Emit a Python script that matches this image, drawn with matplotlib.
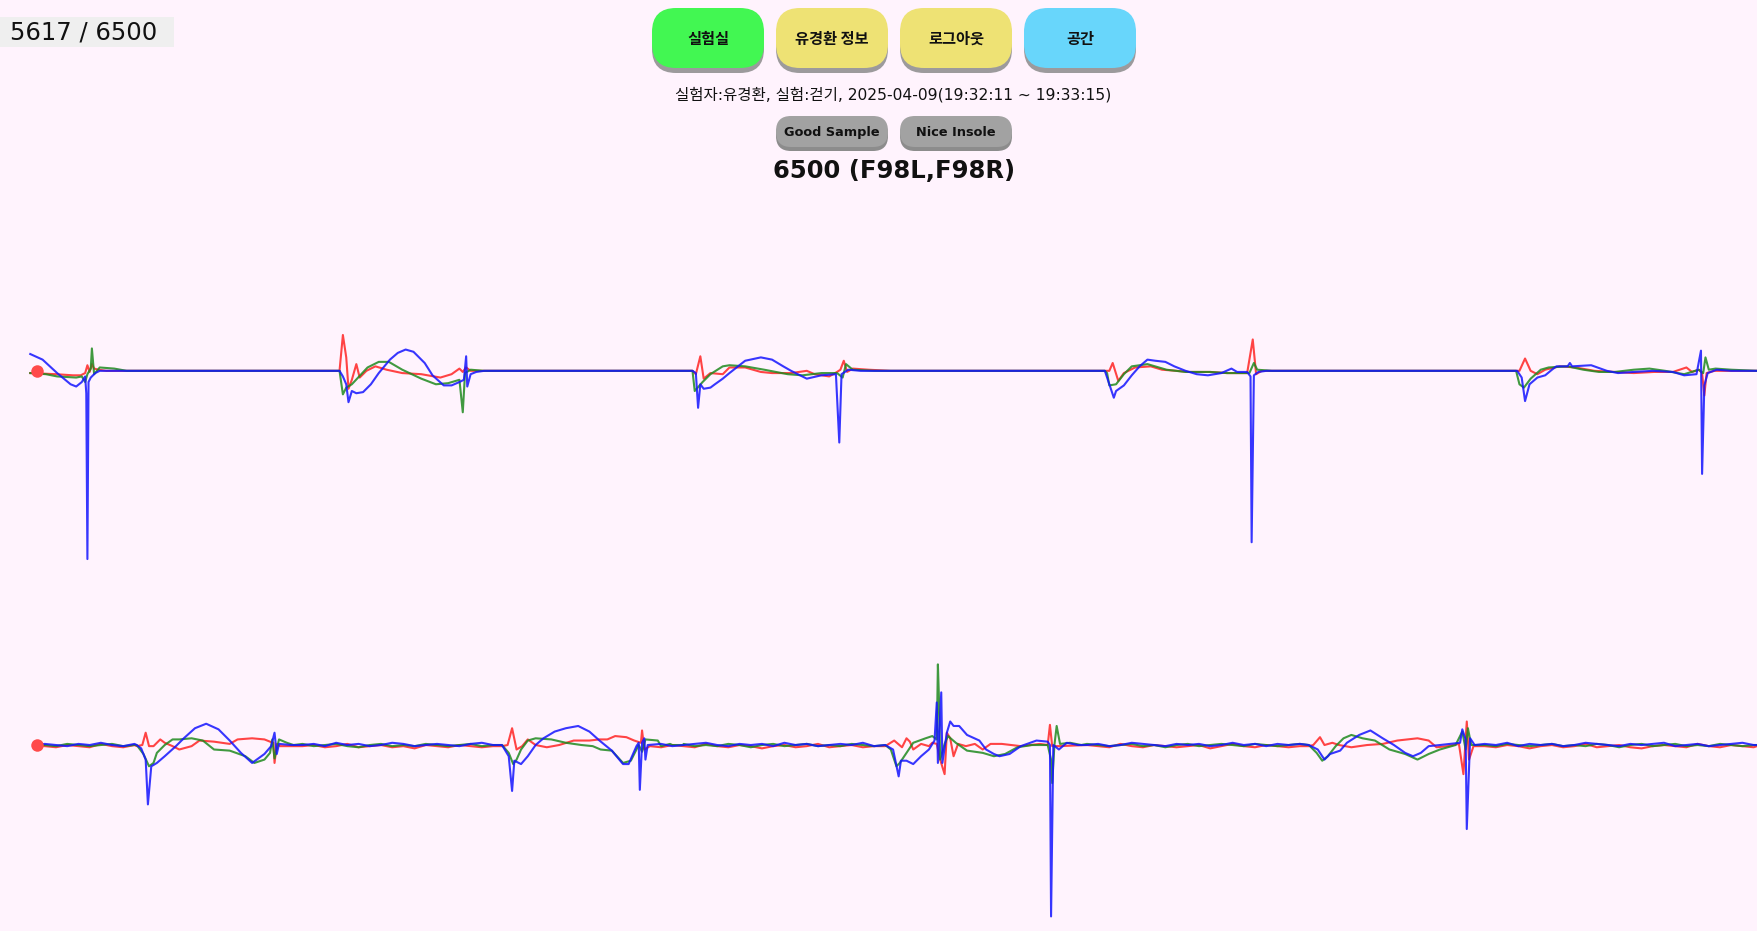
import numpy as np
import matplotlib.pyplot as plt
from matplotlib.patches import FancyBboxPatch, Rectangle

plt.rcParams['font.family'] = ['DejaVu Sans', 'Noto Sans CJK KR']

W, H = 1757, 931

# page texts
counter_text = '5617 / 6500'
menu_labels = ['실험실', '유경환 정보', '로그아웃', '공간']
menu_colors = ['#42f752', '#eee274', '#eee274', '#68d6fb']
info_text = '실험자:유경환, 실험:걷기, 2025-04-09(19:32:11 ~ 19:33:15)'
tag_labels = ['Good Sample', 'Nice Insole']
title_text = '6500 (F98L,F98R)'

# signal traces: (sample, value) pairs, value 0 = rest level
top_red = [(27, -2), (50, -3), (65, -4), (72, -4), (76, -2), (78, 5), (80, -1), (82, 6), (84, 2), (88, 1), (95, 0),
           (303, 0), (306, 32), (309, 12), (311, -16), (314, -8), (318, 6), (321, -6), (327, 0), (335, 4), (345, 1),
           (359, -2), (376, -3), (393, -6), (403, -3), (410, 2), (413, -1), (416, 3), (420, 0),
           (618, 0), (621, -3), (625, 13), (628, -7), (634, -2), (645, -3), (651, 3), (665, 3), (679, -1), (689, -2),
           (706, -2), (720, 0), (727, -3), (740, -5), (747, -1), (750, 1), (753, 9), (756, -1), (761, 2), (775, 1), (795, 0),
           (986, 0), (990, 0), (993, 7), (998, -9), (1003, -2), (1013, 3), (1027, 4), (1037, 1), (1050, 0), (1061, -1),
           (1080, -1), (1095, -2), (1113, -2), (1118, 28), (1121, -3), (1126, 0),
           (1352, 0), (1356, 0), (1361, 11), (1366, 0), (1372, -3), (1379, 1), (1392, 4), (1406, 3), (1423, 0),
           (1441, -1), (1458, -2), (1476, -1), (1493, -1), (1505, 3), (1510, -1), (1516, 1), (1519, -2), (1521, -22),
           (1523, -2), (1530, 0), (1568, 0)]
top_green = [(27, -2), (41, -3), (51, -5), (68, -6), (73, -5), (76, -10), (78, -3), (81, 2), (82, 20), (84, -3), (89, 3),
             (102, 2), (113, 0),
             (303, 0), (306, -21), (309, -15), (314, -12), (328, 3), (338, 8), (347, 8), (359, 1), (376, -7), (389, -12),
             (400, -11), (410, -8), (413, -37), (415, -2), (420, 1), (432, 0),
             (618, 0), (620, -18), (627, -10), (634, -3), (645, 4), (651, 5), (665, 4), (682, 1), (703, -3), (716, -4),
             (733, -2), (747, -2), (752, -6), (755, 6), (761, 1), (780, 0),
             (986, 0), (988, -2), (990, -13), (996, -12), (1003, -3), (1010, 4), (1024, 6), (1041, 1), (1058, -1),
             (1080, -1), (1095, -2), (1115, -2), (1119, 7), (1122, 1), (1135, 0),
             (1353, 0), (1356, -12), (1360, -15), (1366, -7), (1375, 1), (1382, 3), (1399, 4), (1413, 1), (1427, -1),
             (1441, -1), (1458, 1), (1472, 2), (1486, 0), (1503, -3), (1516, 1), (1520, -2), (1522, 12), (1525, 1),
             (1531, 2), (1545, 1), (1568, 0)]
top_blue = [(27, 15), (38, 10), (51, -2), (63, -12), (68, -14), (73, -10), (76, -5), (77, -20), (78, -168), (79, -10),
            (81, -6), (85, -2), (89, 0),
            (303, 0), (306, -5), (309, -12), (311, -28), (314, -18), (318, -20), (324, -19), (331, -12), (338, -2),
            (348, 10), (355, 16), (362, 19), (369, 17), (379, 7), (386, -4), (396, -13), (403, -13), (410, -10),
            (414, -8), (416, 13), (417, -14), (420, -3), (425, -1), (432, 0),
            (618, 0), (621, -2), (623, -33), (625, -12), (628, -16), (634, -15), (638, -12), (645, -7), (651, -2),
            (665, 9), (679, 12), (689, 10), (699, 4), (706, 0), (720, -7), (733, -4), (746, -3), (749, -64), (751, -3),
            (757, 1), (768, 0),
            (986, 0), (991, -15), (994, -24), (996, -18), (1003, -13), (1010, -4), (1017, 4), (1024, 10), (1031, 9),
            (1040, 8), (1048, 4), (1058, 0), (1068, -3), (1078, -4), (1090, -2), (1099, 2), (1104, -1), (1113, -1),
            (1116, -5), (1117, -153), (1119, -4), (1123, -1), (1130, 0),
            (1354, 0), (1358, -6), (1361, -27), (1365, -12), (1372, -6), (1379, -4), (1385, 1), (1389, 4), (1399, 4),
            (1401, 7), (1403, 4), (1420, 5), (1434, 0), (1444, -2), (1458, -1), (1475, 0), (1493, -1), (1503, -4),
            (1514, -3), (1518, 18), (1519, -92), (1521, -13), (1524, -2), (1532, 1), (1545, 0), (1568, 0)]

bot_red = [(30, -1), (122, -1),
           (127, 0), (130, 11), (133, -1), (137, -1), (143, 5), (147, 2), (154, -1), (160, -4), (171, -1), (178, 4),
           (191, 3), (205, 1), (212, 5), (225, 6), (236, 5), (241, 3), (244, 2), (245, -16), (247, 1), (250, -1),
           (448, -1), (453, 0), (457, 15), (461, -4), (466, -1), (471, 5), (478, 0), (488, -2), (499, 0), (512, 4),
           (526, 4), (535, 5), (542, 5), (549, 8), (559, 7), (566, 4), (572, 2), (573, 13), (575, -4), (580, -1),
           (790, -1), (798, 4), (805, -2), (809, 6), (812, 3), (815, -4), (822, 1), (829, -1), (832, 2), (836, 1),
           (839, -13), (843, -26), (845, 11), (848, 6), (851, -10), (855, 1), (862, -1), (870, 1), (877, -4), (884, 1),
           (894, 1), (911, -1), (928, 1), (935, 0), (937, 18), (939, -1), (945, -1),
           (1168, -1), (1172, 0), (1178, 7), (1182, 0), (1189, 2), (1195, 0), (1206, -2), (1220, 0), (1234, 1),
           (1247, 4), (1265, 6), (1275, 4), (1282, -2), (1292, -1), (1302, 1), (1306, -26), (1309, 21), (1311, -13),
           (1315, -1), (1568, -1)]
bot_green = [(30, 0), (122, 0),
             (128, -8), (133, -19), (137, -16), (140, -7), (147, 0), (154, 5), (160, 5), (171, 6), (181, 4), (191, -4),
             (205, -5), (219, -10), (227, -16), (236, -13), (241, -7), (243, 5), (245, -12), (249, 5), (256, 2), (262, 0),
             (448, 0), (454, -7), (458, -17), (461, -13), (465, -4), (471, 4), (478, 6), (492, 5), (505, 2), (519, 0),
             (529, -1), (536, -4), (546, -5), (556, -16), (563, -14), (570, 0), (573, -6), (576, 5), (587, 4), (598, 1),
             (610, 0),
             (790, 0), (795, -4), (800, -19), (803, -16), (809, -7), (815, 2), (826, 6), (832, 8), (836, 5), (837, 72),
             (838, 40), (839, -13), (843, 1), (846, 8), (853, 2), (863, -5), (877, -7), (887, -10), (897, -8), (908, -2),
             (921, 0), (935, 0), (938, -13), (939, -34), (941, 0), (943, 17), (946, 1), (955, 2), (965, 0),
             (1168, 0), (1175, -7), (1180, -14), (1185, -10), (1192, -1), (1199, 6), (1206, 9), (1216, 6), (1227, 4),
             (1240, -4), (1254, -8), (1265, -13), (1275, -8), (1285, -4), (1299, 0), (1305, 12), (1308, -4), (1310, 15),
             (1313, 0), (1568, 0)]
bot_blue = [(30, 0), (122, 0),
            (126, -3), (130, -13), (132, -53), (135, -19), (140, -16), (147, -10), (157, -1), (164, 6), (174, 15),
            (184, 19), (195, 14), (205, 4), (215, -7), (225, -16), (236, -8), (242, -1), (245, 11), (247, -8), (249, 1),
            (260, 0),
            (448, 0), (454, -10), (457, -41), (459, -14), (465, -17), (471, -10), (478, 0), (485, 6), (495, 12),
            (505, 15), (516, 17), (526, 12), (535, 4), (546, -5), (556, -17), (561, -17), (568, -1), (570, 2),
            (571, -40), (573, 2), (575, 6), (576, -13), (578, 0),
            (790, 0), (797, -4), (802, -28), (804, -14), (809, -14), (815, -17), (822, -10), (829, -4), (834, 4),
            (836, 38), (837, -16), (840, 47), (841, -16), (845, 11), (848, 21), (851, 17), (856, 17), (863, 9), (874, 4),
            (880, -4), (887, -8), (892, -10), (901, -8), (911, -1), (925, 4), (935, 3), (937, 0), (938, -153), (940, 0),
            (945, -4), (952, 2), (962, 0),
            (1168, 0), (1176, -4), (1182, -13), (1187, -8), (1196, -5), (1202, 2), (1213, 9), (1223, 13), (1234, 6),
            (1244, 0), (1254, -7), (1261, -10), (1268, -7), (1275, -1), (1285, 0), (1303, 2), (1305, 14), (1308, 5),
            (1309, -75), (1312, 6), (1316, 0), (1568, 0)]

# small jitter of the lower sensor while at rest
rest_x = [40, 50, 60, 70, 80, 90, 100, 110, 120,
          270, 280, 290, 300, 310, 320, 330, 340, 350, 360, 370, 380, 390, 400, 410, 420, 430, 440,
          590, 600, 610, 620, 630, 640, 650, 660, 670, 680, 690, 700, 710, 720, 730, 740, 750, 760, 770, 780,
          970, 980, 990, 1000, 1010, 1020, 1030, 1040, 1050, 1060, 1070, 1080, 1090, 1100, 1110, 1120, 1130, 1140,
          1150, 1160,
          1325, 1335, 1345, 1355, 1365, 1375, 1385, 1395, 1405, 1415, 1425, 1435, 1445, 1455, 1465, 1475, 1485, 1495,
          1505, 1515, 1525, 1535, 1545, 1555, 1565]
rest_red = [-1, -2, 0, -1, -2, 1, -1, -2, 0,
            -1, 0, -2, -1, 1, -2, -1, 0, -2, -1, -3, 0, -1, -2, 0, -1, -2, -1,
            -2, 0, -1, -2, 1, -1, -2, 0, -1, -3, -1, 0, -2, -1, 1, -2, -1, 0, -2, -1,
            0, -1, -2, 1, -1, -2, 0, -1, -2, -1, 0, -3, -1, 1, -1, -2, 0, -1, -2, -1,
            -1, -2, 0, -1, -3, -1, 0, -2, -1, 1, -2, -1, 0, -2, -3, -1, 0, -1, -2, 1, -1, -2, 0, -1, -2]
rest_green = [0, -1, 1, 0, -1, 0, 1, -1, 0,
              1, -1, 0, 1, -1, -2, 0, 1, -1, 0, -1, 1, 0, -1, 0, 1, -1, 0,
              -1, 0, 1, -1, 0, -1, 1, 0, -2, 0, 1, -1, 0, 1, -1, 0, -1, 1, 0, -1,
              1, 0, -1, 0, 1, -1, 0, -2, 0, 1, -1, 0, 1, 0, -1, 1, 0, -1, 0, 1,
              0, -1, 1, 0, -1, 0, 1, -1, 0, -1, 1, 0, -2, 0, 1, -1, 0, 1, -1, 0, -1, 1, 0, -1, 0]
rest_blue = [1, 0, -1, 1, 0, 2, 0, -1, 1,
             0, 1, -1, 2, 0, 1, -1, 0, 2, 1, -1, 0, 1, 0, -1, 1, 2, 0,
             1, -1, 0, 1, 2, 0, -1, 1, 0, 1, -1, 2, 0, 1, -1, 0, 1, 0, 2, -1,
             0, 1, -1, 0, 2, 1, 0, -1, 1, 0, 1, -1, 0, 2, 0, 1, -1, 1, 0, 1,
             1, 0, 2, -1, 1, 0, 1, -1, 0, 2, 1, 0, -1, 1, 0, 1, 2, -1, 0, 1, -1, 0, 1, 2, 0]

start_sample = 33

bg = '#fff3fd'
fig = plt.figure(figsize=(W / 100, H / 100), dpi=100, facecolor=bg)

# page layer in pixel units
ui = fig.add_axes([0, 0, 1, 1])
ui.set_xlim(0, W)
ui.set_ylim(H, 0)
ui.axis('off')
ui.set_facecolor('none')


def button(x0, y0, w, h, r, face, shadow, off, label, fs, font):
    ui.add_patch(FancyBboxPatch((x0, y0 + off), w, h, boxstyle=f'round,pad=0,rounding_size={r}',
                                fc=shadow, ec='none'))
    ui.add_patch(FancyBboxPatch((x0, y0), w, h, boxstyle=f'round,pad=0,rounding_size={r}',
                                fc=face, ec='none'))
    ui.text(x0 + w / 2, y0 + h / 2 + 1, label, ha='center', va='center', fontsize=fs,
            fontweight='bold', family=font, color='#111111')


ui.add_patch(Rectangle((0, 17), 174, 30, fc='#efefef', ec='none'))
ui.text(10, 32, counter_text, ha='left', va='center', fontsize=17.5, color='#111111')

for i, (lab, col) in enumerate(zip(menu_labels, menu_colors)):
    button(652 + 124 * i, 8, 112, 60, 24, col, '#9c9a9c', 5, lab, 11, ['Noto Sans CJK KR', 'DejaVu Sans'])

ui.text(893, 95, info_text, ha='center', va='center', fontsize=11.2, color='#111111')

for i, lab in enumerate(tag_labels):
    button(776 + 124 * i, 116, 112, 31, 15, '#a2a2a2', '#8c8c8c', 4, lab, 9.3, ['DejaVu Sans'])

ui.text(894, 171, title_text, ha='center', va='center', fontsize=17.5, fontweight='bold', color='#111111')

bot_red = sorted(bot_red + list(zip(rest_x, rest_red)))
bot_green = sorted(bot_green + list(zip(rest_x, rest_green)))
bot_blue = sorted(bot_blue + list(zip(rest_x, rest_blue)))

# trace panels
panels = [
    ([0, 1 - 510 / 831, 1, 340 / 831], (-179, 161), top_red, top_green, top_blue),
    ([0, 0, 1, 311 / 831], (-166, 145), bot_red, bot_green, bot_blue),
]
for rect, ylim, red, green, blue in panels:
    ax = fig.add_axes(rect)
    ax.set_xlim(0, 1568)
    ax.set_ylim(*ylim)
    ax.axis('off')
    ax.set_facecolor('none')
    for pts, col in [(red, '#ff2424'), (green, '#1f8a1f'), (blue, '#1414ff')]:
        arr = np.array(pts)
        ax.plot(arr[:, 0], arr[:, 1], color=col, lw=1.5, alpha=0.85, solid_joinstyle='round')
    ax.plot([start_sample], [0], 'o', color='#ff4a4a', ms=9, mec='none')

fig.savefig('out.png', dpi=100, facecolor=bg)
